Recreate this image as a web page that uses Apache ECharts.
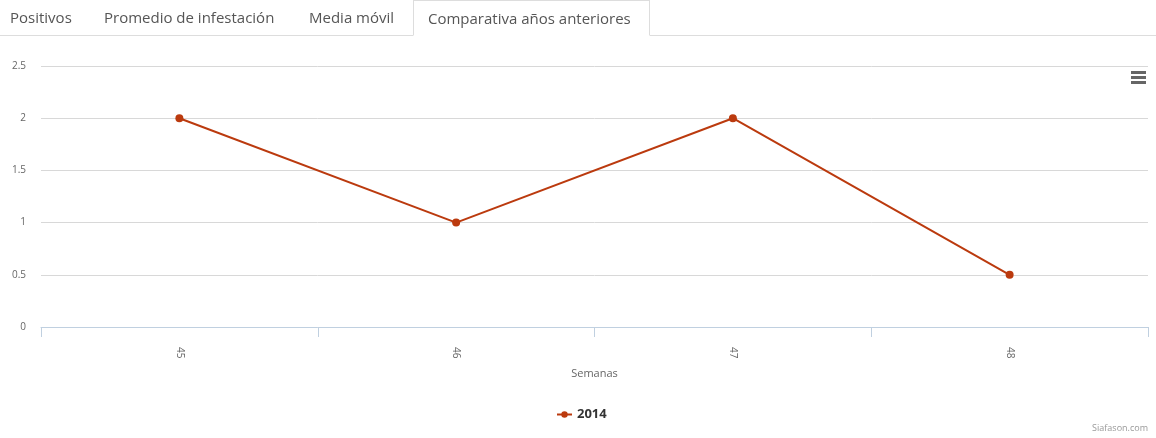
<!DOCTYPE html>
<html>
<head>
<meta charset="utf-8">
<script src="https://cdn.jsdelivr.net/npm/echarts@6/dist/echarts.min.js"></script>
<style>
  html, body { margin: 0; padding: 0; background: #fff; }
  #wrap { position: relative; width: 1156px; height: 438px; overflow: hidden; }
  #chart { position: absolute; left: 0; top: 0; width: 1156px; height: 438px; }
  .tabs { position: absolute; left: 0; top: 0; width: 1156px; height: 35px; border-bottom: 1px solid #ddd;
          font-family: "Open Sans", sans-serif; font-size: 15px; color: #555; z-index: 2; }
  .tab { position: absolute; top: 0; height: 35px; line-height: 34px; box-sizing: border-box; white-space: nowrap; }
  .tab.active { background: #fff; border: 1px solid #ddd; border-bottom: 1px solid #fff; height: 36px; padding: 0 14px; }
</style>
</head>
<body>
<div id="wrap">
  <div class="tabs">
    <span class="tab" style="left:10px">Positivos</span>
    <span class="tab" style="left:104px">Promedio de infestación</span>
    <span class="tab" style="left:309px">Media móvil</span>
    <span class="tab active" style="left:413px;width:237px">Comparativa años anteriores</span>
  </div>
  <div id="chart"></div>
</div>
<script>
// semanas
var semanas = ['45', '46', '47', '48'];
var valores2014 = [2, 1, 2, 0.5];
var serieNombre = '2014';

var myChart = echarts.init(document.getElementById('chart'));
var lineColor = '#BB3A0E';
var options = {
    animation: false,
    textStyle: { fontFamily: 'Open Sans' },
    grid: { left: 41, right: 8, top: 66, bottom: 111 },
    legend: {
        data: [serieNombre],
        bottom: 12,
        left: 551,
        itemWidth: 15,
        itemHeight: 8,
        itemGap: 6,
        textStyle: { color: '#333', fontSize: 13, fontWeight: 'bold' }
    },
    xAxis: [{
        type: 'category',
        data: semanas,
        boundaryGap: true,
        z: 5,
        name: 'Semanas',
        nameLocation: 'middle',
        nameGap: 41,
        nameTextStyle: { color: '#666', fontSize: 11 },
        axisLine: { show: true, lineStyle: { color: '#C0D0E0', width: 1 } },
        axisTick: { show: true, interval: 0, length: 10, lineStyle: { color: '#C0D0E0', width: 1 } },
        axisLabel: { rotate: -90, margin: 20, color: '#666', fontSize: 10 }
    }],
    yAxis: [{
        type: 'value',
        min: 0,
        max: 2.5,
        interval: 0.5,
        axisLine: { show: false },
        axisTick: { show: false },
        axisLabel: { color: '#666', fontSize: 10, margin: 15 },
        splitLine: { lineStyle: { color: '#D8D8D8' } }
    }],
    graphic: [
        { type: 'rect', shape: { x: 1131, y: 71, width: 15, height: 3 }, style: { fill: '#666' } },
        { type: 'rect', shape: { x: 1131, y: 76, width: 15, height: 3 }, style: { fill: '#666' } },
        { type: 'rect', shape: { x: 1131, y: 81, width: 15, height: 3 }, style: { fill: '#666' } },
        { type: 'text', right: 8, bottom: 5, style: { text: 'Siafason.com', fill: '#999', fontSize: 9, fontFamily: 'Open Sans' } }
    ],
    series: [{
        name: serieNombre,
        type: 'line',
        data: valores2014,
        symbol: 'circle',
        symbolSize: 8,
        itemStyle: { color: lineColor },
        lineStyle: { color: lineColor, width: 2 }
    }]
};
myChart.setOption(options);
</script>
</body>
</html>
